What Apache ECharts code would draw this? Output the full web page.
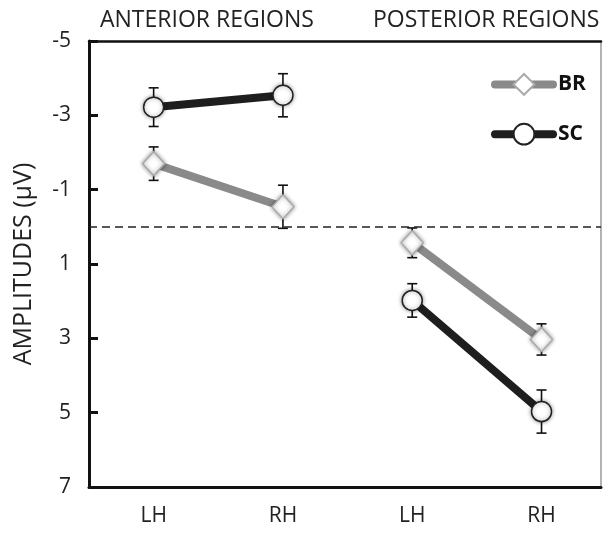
<!DOCTYPE html>
<html>
<head>
<meta charset="utf-8">
<script src="https://cdn.jsdelivr.net/npm/echarts@6/dist/echarts.min.js"></script>
<style>
  html, body { margin: 0; padding: 0; background: #fff; }
  #chart { width: 603px; height: 534px; }
</style>
</head>
<body>
<div id="chart"></div>
<script>
// Conditions along the x axis (anterior LH/RH, posterior LH/RH)
const categories = ['LH', 'RH', 'LH', 'RH'];
const regionTitles = ['ANTERIOR REGIONS', 'POSTERIOR REGIONS'];
const yTicks = [-5, -3, -1, 1, 3, 5, 7];

// Mean amplitudes (µV) and error bar half-widths
const brMean = [-1.70, -0.54, 0.43, 3.03];
const brErr  = [0.45, 0.58, 0.40, 0.42];
const scMean = [-3.22, -3.54, 1.98, 4.97];
const scErr  = [0.52, 0.58, 0.45, 0.58];

const FONT = '"Open Sans", sans-serif';
const BR_COLOR = '#8a8a8a';
const SC_COLOR = '#1e1e1e';
const X_MIN = -0.5;
const X_MAX = 3.46;

const chart = echarts.init(document.getElementById('chart'));

// Each region is drawn as its own segment so the lines break between regions
function segment(vals, from, to) {
  const out = [];
  for (let i = from; i <= to; i++) out.push([i, vals[i]]);
  return out;
}

function lineSeries(name, vals, from, to, color, symbol, size, border) {
  return {
    name: name,
    type: 'line',
    data: segment(vals, from, to),
    symbol: symbol,
    symbolSize: size,
    z: 3,
    lineStyle: { color: color, width: 8, cap: 'butt' },
    itemStyle: {
      color: '#ffffff',
      borderColor: border,
      borderWidth: 1.5,
      shadowBlur: 4,
      shadowColor: 'rgba(0,0,0,0.4)'
    },
    emphasis: { disabled: true },
    animation: false
  };
}

function errorSeries(vals, errs) {
  return {
    type: 'custom',
    z: 2,
    animation: false,
    silent: true,
    data: vals.map((v, i) => [i, v - errs[i], v + errs[i]]),
    renderItem: function (params, api) {
      const top = api.coord([api.value(0), api.value(1)]);
      const bot = api.coord([api.value(0), api.value(2)]);
      const cap = 5;
      const style = { stroke: '#111', lineWidth: 1.6, fill: null };
      return {
        type: 'group',
        children: [
          { type: 'line', shape: { x1: top[0], y1: top[1], x2: bot[0], y2: bot[1] }, style: style },
          { type: 'line', shape: { x1: top[0] - cap, y1: top[1], x2: top[0] + cap, y2: top[1] }, style: style },
          { type: 'line', shape: { x1: bot[0] - cap, y1: bot[1], x2: bot[0] + cap, y2: bot[1] }, style: style }
        ]
      };
    }
  };
}

const titleStyle = { fontFamily: FONT, fontSize: 23, fontWeight: 'normal', color: '#222' };

const option = {
  backgroundColor: '#ffffff',
  animation: false,
  title: [
    { text: regionTitles[0], left: 95, top: 4, textStyle: titleStyle },
    { text: regionTitles[1], left: 368, top: 4, textStyle: titleStyle }
  ],
  legend: {
    data: [
      { name: 'BR', itemStyle: { borderColor: '#aaa' }, lineStyle: { width: 8, cap: 'round', color: BR_COLOR } },
      { name: 'SC', itemStyle: { borderColor: '#222' }, lineStyle: { width: 8, cap: 'round', color: SC_COLOR } }
    ],
    orient: 'vertical',
    left: 486,
    top: 68,
    itemWidth: 58,
    itemHeight: 26,
    itemGap: 27,
    textStyle: { fontFamily: FONT, fontSize: 21, fontWeight: 'bold', color: '#111', padding: [0, 0, 0, 0] },
    selectedMode: false
  },
  grid: { left: 89, right: 2, top: 41, bottom: 47, containLabel: false },
  xAxis: [
    {
      type: 'value',
      min: X_MIN,
      max: X_MAX,
      position: 'bottom',
      axisLine: { show: true, onZero: false, lineStyle: { color: '#111', width: 3 } },
      axisTick: { show: false },
      splitLine: { show: false },
      axisLabel: {
        customValues: [0, 1, 2, 3],
        formatter: function (v) { return categories[Math.round(v)]; },
        fontFamily: FONT, fontSize: 21, color: '#222', margin: 19
      }
    },
    {
      type: 'value',
      min: X_MIN,
      max: X_MAX,
      position: 'top',
      axisLine: { show: true, onZero: false, lineStyle: { color: '#111', width: 2.5 } },
      axisTick: { show: false },
      splitLine: { show: false },
      axisLabel: { show: false }
    }
  ],
  yAxis: [
    {
      type: 'value',
      inverse: true,
      min: yTicks[0],
      max: yTicks[yTicks.length - 1],
      interval: 2,
      name: 'AMPLITUDES (µV)',
      nameLocation: 'middle',
      nameGap: 53,
      nameTextStyle: { fontFamily: FONT, fontSize: 25, color: '#222' },
      axisLine: { show: true, onZero: false, lineStyle: { color: '#111', width: 3 } },
      axisTick: { show: true, inside: true, length: 9, lineStyle: { color: '#111', width: 3 } },
      axisLabel: { fontFamily: FONT, fontSize: 21, color: '#222', margin: 18 },
      splitLine: { show: false }
    },
    {
      type: 'value',
      inverse: true,
      min: yTicks[0],
      max: yTicks[yTicks.length - 1],
      position: 'right',
      axisLine: { show: true, onZero: false, lineStyle: { color: '#999', width: 1.5 } },
      axisTick: { show: false },
      axisLabel: { show: false },
      splitLine: { show: false }
    }
  ],
  series: [
    errorSeries(brMean, brErr),
    errorSeries(scMean, scErr),
    lineSeries('BR', brMean, 0, 1, BR_COLOR, 'diamond', [22, 24], '#aaa'),
    lineSeries('BR', brMean, 2, 3, BR_COLOR, 'diamond', [22, 24], '#aaa'),
    lineSeries('SC', scMean, 0, 1, SC_COLOR, 'circle', 20, '#222'),
    lineSeries('SC', scMean, 2, 3, SC_COLOR, 'circle', 20, '#222'),
    {
      type: 'line',
      data: [],
      silent: true,
      markLine: {
        silent: true,
        symbol: 'none',
        label: { show: false },
        lineStyle: { color: '#222', type: [8, 5], width: 1.5 },
        data: [{ yAxis: 0 }]
      }
    }
  ]
};

chart.setOption(option);
</script>
</body>
</html>
